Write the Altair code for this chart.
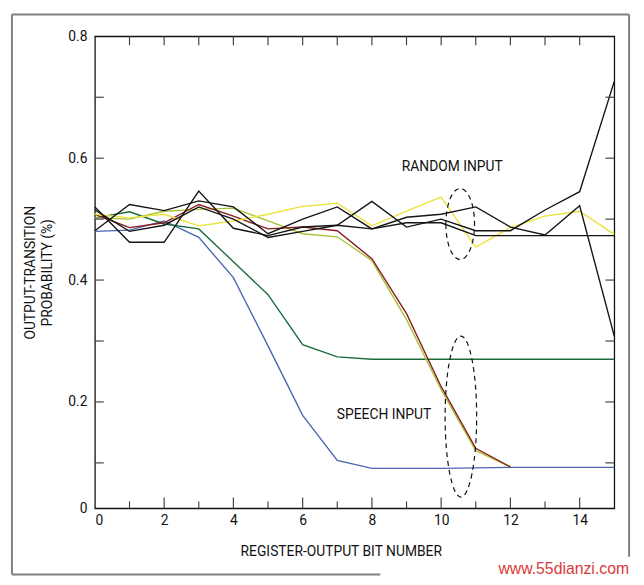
import altair as alt
import pandas as pd

# ---------------- data ----------------
bits = list(range(16))
bits_short = list(range(13))

blue = [0.480, 0.482, 0.497, 0.470, 0.404, 0.292, 0.178, 0.104, 0.088, 0.088,
        0.088, 0.089, 0.090, 0.090, 0.090, 0.090]
dark_green = [0.502, 0.512, 0.492, 0.484, 0.430, 0.376, 0.294, 0.274, 0.270, 0.270,
              0.270, 0.270, 0.270, 0.270, 0.270, 0.270]
red = [0.508, 0.486, 0.494, 0.524, 0.505, 0.484, 0.487, 0.481, 0.435, 0.345,
       0.225, 0.124, 0.091]
light_green = [0.502, 0.500, 0.513, 0.516, 0.518, 0.497, 0.476, 0.471, 0.432, 0.335,
               0.220, 0.120, 0.091]
yellow = [0.508, 0.502, 0.508, 0.489, 0.497, 0.508, 0.521, 0.526, 0.489, 0.513,
          0.536, 0.454, 0.486, 0.505, 0.513, 0.475]
black_a = [0.520, 0.462, 0.462, 0.546, 0.485, 0.473, 0.487, 0.490, 0.529, 0.487,
           0.500, 0.481, 0.481, 0.515, 0.545, 0.726]
black_b = [0.481, 0.524, 0.514, 0.530, 0.520, 0.476, 0.500, 0.520, 0.484, 0.503,
           0.508, 0.520, 0.487, 0.474, 0.522, 0.308]
black_c = [0.515, 0.480, 0.490, 0.520, 0.500, 0.470, 0.480, 0.490, 0.484, 0.494,
           0.494, 0.473, 0.473, 0.473, 0.473, 0.473]

series = [
    ("blue", bits, blue),
    ("dark_green", bits, dark_green),
    ("light_green", bits_short, light_green),
    ("red", bits_short, red),
    ("yellow", bits, yellow),
    ("black_c", bits, black_c),
    ("black_b", bits, black_b),
    ("black_a", bits, black_a),
]
series_names = [s[0] for s in series]
series_colors = ["#4a68b0", "#1d6b3c", "#a6c23a", "#8a1c1c", "#ece23a",
                 "#151515", "#151515", "#151515"]

rows = []
for name, xs, ys in series:
    for xv, yv in zip(xs, ys):
        rows.append({"series": name, "x": xv, "y": yv})
lines_df = pd.DataFrame(rows)

x_labels = [0, 2, 4, 6, 8, 10, 12, 14]
y_labels = [0, 0.2, 0.4, 0.6, 0.8]
x_minor = [1, 3, 5, 7, 9, 11, 13]
x_major_inner = [2, 4, 6, 8, 10, 12, 14]
x_all_inner = list(range(1, 15))
y_inner = [0.1, 0.2, 0.3, 0.4, 0.5, 0.6, 0.7]

notes_text = ["RANDOM INPUT", "SPEECH INPUT"]
notes_x = [10.32, 8.35]
notes_y = [0.585, 0.178]

ellipse_x = [10.55, 10.57]
ellipse_y = [0.492, 0.176]

W, H = 526, 478
FONT = "Liberation Sans Narrow, Roboto, sans-serif"

xscale = alt.Scale(domain=[0, 15], nice=False, zero=False)
yscale = alt.Scale(domain=[0, 0.1, 0.8], range=[H, 432, 0], nice=False, zero=False)

xaxis = alt.Axis(values=x_labels, ticks=False, domain=False, grid=False,
                 labelFontSize=14, labelPadding=5, labelColor="#111", labelFont=FONT,
                 title="REGISTER-OUTPUT BIT NUMBER", titleFont=FONT, titleFontSize=14,
                 titleFontWeight="normal", titleColor="#111",
                 titleX=249, titleY=48, titleAlign="center", titleBaseline="alphabetic")
yaxis = alt.Axis(values=y_labels, ticks=False, domain=False, grid=False,
                 labelFontSize=14, labelPadding=8, labelColor="#111", labelFont=FONT,
                 labelExpr="datum.value == 0 ? '0' : format(datum.value, '.1f')",
                 title=["OUTPUT-TRANSITION", "PROBABILITY (%)"], titleFont=FONT,
                 titleFontSize=14, titleFontWeight="normal", titleColor="#111",
                 titleAngle=-90, titleX=-72, titleY=H / 2, titleAlign="center",
                 titleBaseline="top", titleLineHeight=17)

X = alt.X("x:Q", scale=xscale, axis=xaxis)
Y = alt.Y("y:Q", scale=yscale, axis=yaxis)

lines = alt.Chart(lines_df).mark_line(strokeWidth=1.4).encode(
    x=X, y=Y,
    color=alt.Color("series:N", scale=alt.Scale(domain=series_names, range=series_colors),
                    legend=None),
    order=alt.Order("x:Q"),
)

tick_color = "#444"
bx_major = alt.Chart(pd.DataFrame({"x": x_major_inner})).mark_rule(color=tick_color, strokeWidth=1.2).encode(
    x=X, y=alt.value(H), y2=alt.value(H - 11))
bx_minor = alt.Chart(pd.DataFrame({"x": x_minor})).mark_rule(color=tick_color, strokeWidth=1.2).encode(
    x=X, y=alt.value(H), y2=alt.value(H - 7))
tx = alt.Chart(pd.DataFrame({"x": x_all_inner})).mark_rule(color=tick_color, strokeWidth=1.2).encode(
    x=X, y=alt.value(0), y2=alt.value(9))
ly = alt.Chart(pd.DataFrame({"y": y_inner})).mark_rule(color=tick_color, strokeWidth=1.2).encode(
    y=Y, x=alt.value(0), x2=alt.value(9))
ry = alt.Chart(pd.DataFrame({"y": y_inner})).mark_rule(color=tick_color, strokeWidth=1.2).encode(
    y=Y, x=alt.value(W - 9), x2=alt.value(W))

notes = alt.Chart(pd.DataFrame({"x": notes_x, "y": notes_y, "t": notes_text})).mark_text(
    font=FONT, fontSize=14, color="#111", align="center", baseline="middle").encode(
    x=X, y=Y, text="t:N")

ell1 = alt.Chart(pd.DataFrame({"x": ellipse_x[:1], "y": ellipse_y[:1]})).mark_point(
    shape="M -0.403 0 A 0.403 1 0 1 0 0.403 0 A 0.403 1 0 1 0 -0.403 0 Z",
    size=5184, filled=False, color="#111", strokeWidth=1.2, strokeDash=[5, 4], opacity=1).encode(
    x=X, y=Y)
ell2 = alt.Chart(pd.DataFrame({"x": ellipse_x[1:], "y": ellipse_y[1:]})).mark_point(
    shape="M -0.196 0 A 0.196 1 0 1 0 0.196 0 A 0.196 1 0 1 0 -0.196 0 Z",
    size=26569, filled=False, color="#111", strokeWidth=1.2, strokeDash=[5, 4], opacity=1).encode(
    x=X, y=Y)

one = pd.DataFrame({"a": [0]})
frame_c = "#808080"
f_top = alt.Chart(one).mark_rule(color=frame_c, strokeWidth=2).encode(
    x=alt.value(-84), x2=alt.value(541), y=alt.value(-22))
f_left = alt.Chart(one).mark_rule(color=frame_c, strokeWidth=2).encode(
    x=alt.value(-84), y=alt.value(-22), y2=alt.value(545))
f_right = alt.Chart(one).mark_rule(color=frame_c, strokeWidth=2).encode(
    x=alt.value(541), y=alt.value(-22), y2=alt.value(527))
f_bottom = alt.Chart(one).mark_rule(color=frame_c, strokeWidth=2).encode(
    x=alt.value(-84), x2=alt.value(289), y=alt.value(545))
watermark = alt.Chart(one).mark_text(font="Liberation Sans, Arial, sans-serif", fontSize=16,
                                     color="#d83a3a", align="right", baseline="middle").encode(
    x=alt.value(541), y=alt.value(540), text=alt.value("www.55dianzi.com"))

chart = alt.layer(
    lines, bx_major, bx_minor, tx, ly, ry, notes, ell1, ell2,
    f_top, f_left, f_right, f_bottom, watermark
).properties(
    width=W, height=H,
    autosize=alt.AutoSizeParams(type="none"),
    padding={"left": 88, "top": 25, "right": 22, "bottom": 74},
    background="white",
).configure_view(stroke="#111", strokeWidth=1.3)

chart.save("out.html", embed_options={"renderer": "svg", "actions": False})
